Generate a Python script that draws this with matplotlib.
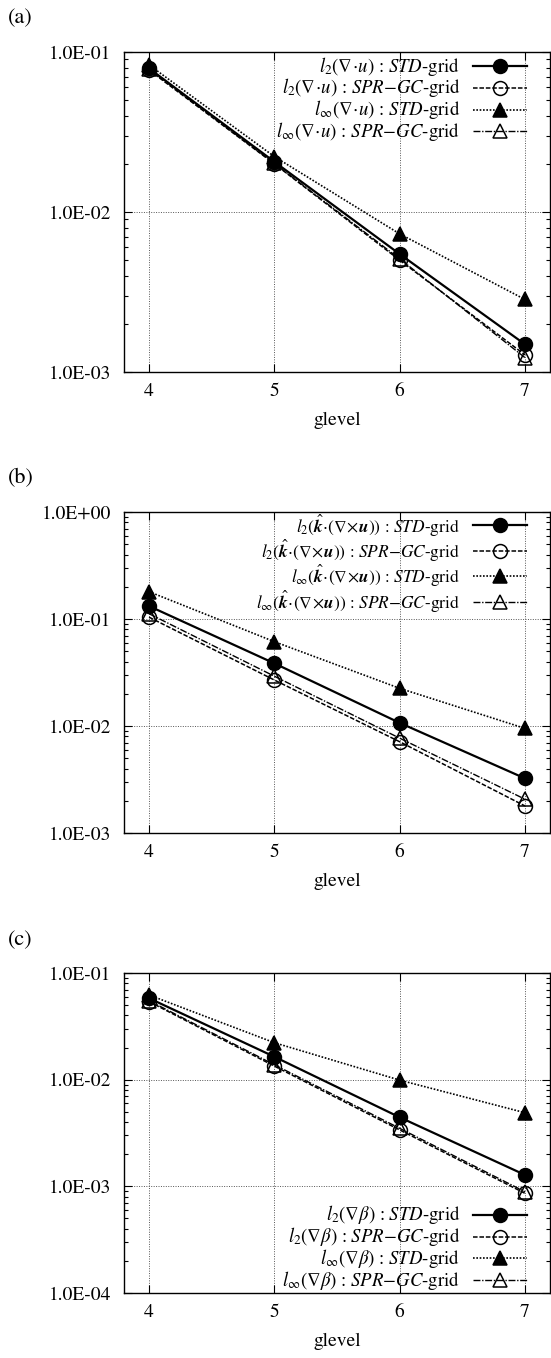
import numpy as np
import matplotlib
matplotlib.use("Agg")
import matplotlib.pyplot as plt
from matplotlib.ticker import FixedLocator, LogLocator, FuncFormatter, NullFormatter

plt.rcParams["font.family"] = ["STIXGeneral", "DejaVu Serif"]
plt.rcParams["mathtext.fontset"] = "stix"

# ---- data -------------------------------------------------------------
glevel = [4, 5, 6, 7]

# (a) divergence
a_l2_std = [0.079, 0.0206, 0.00546, 0.00149]
a_l2_spr = [0.077, 0.0200, 0.00500, 0.00128]
a_li_std = [0.083, 0.0222, 0.00730, 0.00284]
a_li_spr = [0.078, 0.0201, 0.00510, 0.00123]

# (b) vorticity
b_l2_std = [0.132, 0.0385, 0.0107, 0.00324]
b_l2_spr = [0.104, 0.0269, 0.00713, 0.00179]
b_li_std = [0.180, 0.0614, 0.0225, 0.0095]
b_li_spr = [0.112, 0.0292, 0.00770, 0.00207]

# (c) gradient
c_l2_std = [0.058, 0.0164, 0.00444, 0.00128]
c_l2_spr = [0.0539, 0.0134, 0.00338, 0.00086]
c_li_std = [0.0622, 0.0222, 0.0099, 0.0049]
c_li_spr = [0.0550, 0.0138, 0.00350, 0.00089]

SPR = r"$\mathit{SPR}$−$\mathit{GC}$-grid"
STD = r"$\mathit{STD}$-grid"
a_names = [r"$l_2(\nabla\!\cdot\! u)$ : " + STD,
           r"$l_2(\nabla\!\cdot\! u)$ : " + SPR,
           r"$l_\infty(\nabla\!\cdot\! u)$ : " + STD,
           r"$l_\infty(\nabla\!\cdot\! u)$ : " + SPR]
b_q = r"(\hat{\mathbfit{k}}\!\cdot\!(\nabla\!\times\!\mathbfit{u}))"
b_names = [r"$l_2" + b_q + "$ : " + STD,
           r"$l_2" + b_q + "$ : " + SPR,
           r"$l_\infty" + b_q + "$ : " + STD,
           r"$l_\infty" + b_q + "$ : " + SPR]
c_names = [r"$l_2(\nabla\beta)$ : " + STD,
           r"$l_2(\nabla\beta)$ : " + SPR,
           r"$l_\infty(\nabla\beta)$ : " + STD,
           r"$l_\infty(\nabla\beta)$ : " + SPR]

# ---- styles -----------------------------------------------------------
STYLES = [
    dict(ls="-", lw=1.6, marker="o", mfc="black", ms=10),
    dict(ls=(0, (3, 1.2)), lw=1.1, marker="o", mfc="none", ms=10),
    dict(ls=(0, (1, 1)), lw=1.2, marker="^", mfc="black", ms=9.5),
    dict(ls=(0, (5, 1.2, 1, 1.2)), lw=1.0, marker="^", mfc="none", ms=9.5),
]
FS = 14      # ticks / axis label
W, H = 551, 1358


def fmt_e(v, pos):
    return f"{v:.1E}"


def panel(rect, series, names, ylim, leg_top, tag, tag_y, lfs=13.5, dy=0.068):
    ax = fig.add_axes(rect)
    for vals, st in zip(series, STYLES):
        ax.plot(glevel, vals, color="black", mec="black", mew=1.1, **st)
    ax.set_yscale("log")
    ax.set_xlim(3.8, 7.2)
    ax.set_ylim(*ylim)
    ax.xaxis.set_major_locator(FixedLocator(glevel))
    ax.yaxis.set_major_locator(LogLocator(base=10, numticks=10))
    ax.yaxis.set_minor_locator(LogLocator(base=10, subs=np.arange(2, 10), numticks=10))
    ax.yaxis.set_major_formatter(FuncFormatter(fmt_e))
    ax.yaxis.set_minor_formatter(NullFormatter())
    ax.tick_params(which="both", direction="in", top=True, right=True,
                   labelsize=FS, width=0.8)
    ax.tick_params(which="major", length=6)
    ax.tick_params(which="minor", length=3)
    ax.tick_params(axis="x", pad=8)
    ax.tick_params(axis="y", pad=9)
    ax.grid(True, which="major", color="#555555", ls=(0, (1, 1.5)), lw=0.7)
    for s in ax.spines.values():
        s.set_linewidth(1.0)
    ax.set_xlabel("glevel", fontsize=FS, labelpad=8)

    # gnuplot-like key: right aligned text, sample to the right
    for i, (name, st) in enumerate(zip(names, STYLES)):
        y = leg_top - i * dy
        ax.text(0.789, y, name, transform=ax.transAxes, ha="right",
                va="center", fontsize=lfs)
        ax.plot([0.819, 0.946], [y, y], transform=ax.transAxes,
                color="black", ls=st["ls"], lw=st["lw"], clip_on=False)
        ax.plot([0.882], [y], transform=ax.transAxes, color="black",
                marker=st["marker"], mfc=st["mfc"], ms=st["ms"], mec="black",
                mew=1.1, clip_on=False)
    fig.text(8 / W, 1 - tag_y / H, tag, fontsize=FS + 2, ha="left", va="center")
    return ax


fig = plt.figure(figsize=(W / 100, H / 100), dpi=100)
L, R = 124 / W, 426 / W

panel([L, (H - 372) / H, R, 320 / H],
      [a_l2_std, a_l2_spr, a_li_std, a_li_spr], a_names,
      (1e-3, 1e-1), 0.956, "(a)", 18)
panel([L, (H - 833) / H, R, 321 / H],
      [b_l2_std, b_l2_spr, b_li_std, b_li_spr], b_names,
      (1e-3, 1e0), 0.958, "(b)", 478, lfs=12.5, dy=0.079)
panel([L, (H - 1293) / H, R, 320 / H],
      [c_l2_std, c_l2_spr, c_li_std, c_li_spr], c_names,
      (1e-4, 1e-1), 0.244, "(c)", 940)

fig.savefig("out.png", dpi=100)
